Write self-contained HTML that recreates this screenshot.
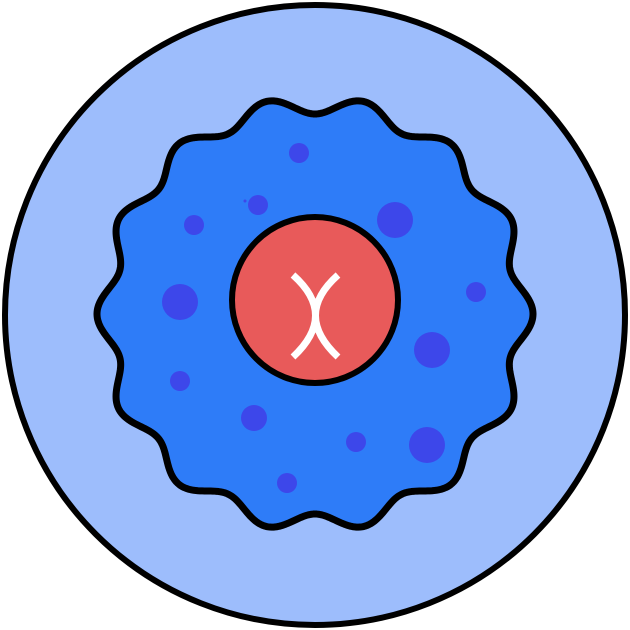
<!DOCTYPE html>
<html><head><meta charset="utf-8"><style>html,body{margin:0;padding:0;background:#fff}svg{display:block}</style></head>
<body>
<svg width="630" height="630" viewBox="0 0 630 630">
<circle cx="315" cy="315" r="310" fill="#9dbdfc" stroke="#000" stroke-width="6"/>
<path id="blob" fill="#2e7cf8" stroke="#000" stroke-width="7" stroke-linejoin="round"/>
<g fill="#3d47ea">
<circle cx="299" cy="153" r="10"/><circle cx="258" cy="205" r="10"/><circle cx="395" cy="220" r="18"/>
<circle cx="194" cy="225" r="10"/><circle cx="180" cy="302" r="18"/><circle cx="476" cy="292" r="10"/>
<circle cx="432" cy="350" r="18"/><circle cx="180" cy="381" r="10"/><circle cx="254" cy="418" r="13"/>
<circle cx="356" cy="442" r="10"/><circle cx="427" cy="445" r="18"/><circle cx="287" cy="483" r="10"/>
<circle cx="245" cy="201" r="1.5"/>
</g>
<circle cx="315" cy="300" r="83" fill="#e85a5a" stroke="#000" stroke-width="6"/>
<g fill="none" stroke="#fff" stroke-width="7">
<path d="M293,275 Q338,315 293,357"/>
<path d="M338,275 Q293,315 338,357"/>
</g>
</svg>
<script>
var cx=315,cy=314,R=209,A=9,N=14,d='';
for(var i=0;i<=720;i++){var t=i/720*2*Math.PI;var r=R+A*Math.cos(N*t);var x=cx+r*Math.cos(t),y=cy+r*Math.sin(t);d+=(i?'L':'M')+x.toFixed(2)+','+y.toFixed(2);}
document.getElementById('blob').setAttribute('d',d+'Z');
</script>
</body></html>
